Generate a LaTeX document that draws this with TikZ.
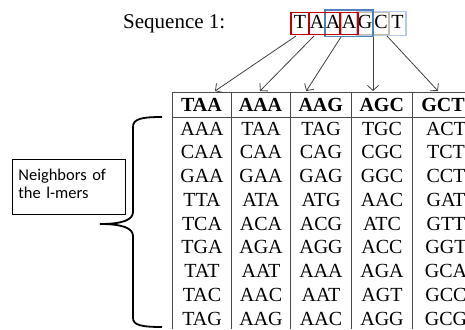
\documentclass[tikz,border=0pt]{standalone}
\usepackage{fontspec}
\setmainfont{Liberation Serif}
\newfontfamily\notefont{Carlito}
\usetikzlibrary{arrows.meta}

\definecolor{kred}{HTML}{C00000}
\definecolor{kblue}{HTML}{4F81BD}
\definecolor{kgray}{HTML}{C4BDB0}
\definecolor{klight}{HTML}{B4C9E6}
\definecolor{rule}{HTML}{4A4A4A}

\tikzset{
  seqfont/.style={font=\fontsize{20}{24}\selectfont},
  kmer/.style={inner sep=0pt, outer sep=0pt, line width=1.8pt},
  hcell/.style={draw=rule, line width=0.9pt, inner sep=0pt, outer sep=0pt,
    minimum height=24.5pt},
  htext/.style={anchor=base, font=\fontsize{20}{24}\selectfont\bfseries},
  btext/.style={anchor=base, font=\fontsize{20}{24}\selectfont},
  tline/.style={draw=rule, line width=0.9pt},
  pointer/.style={draw=black!75, line width=0.8pt,
    -{Straight Barb[length=5pt,width=11pt]}},
}

\begin{document}
\begin{tikzpicture}[x=1pt,y=-1pt]
\useasboundingbox (0,0) rectangle (465,329);
\clip (0,0) rectangle (465,329);

% sequence label and its letters
\node[anchor=base west, inner sep=0pt, font=\fontsize{21}{24}\selectfont] (seqlabel) at (123,28.5) {Sequence 1:};
\foreach \ch/\x [count=\i] in {T/300,A/317,A/333,A/349,G/365,C/381,T/397.5}
  \node[seqfont, anchor=base, inner sep=0pt] (s\i) at (\x,28.5) {\ch};

% overlapping 3-mer frames
\node[kmer, draw=klight, line width=1.5pt, minimum width=49pt, minimum height=24pt] (k5) at (381.5,23.5) {};
\node[kmer, draw=kgray, line width=1.3pt, minimum width=48pt, minimum height=22pt] (k4) at (365,23.5) {};
\node[kmer, draw=kblue, minimum width=48pt, minimum height=26.5pt] (k3) at (349,23.3) {};
\node[kmer, draw=kred, minimum width=49pt, minimum height=22pt] (k2) at (333.5,23.5) {};
\node[kmer, draw=kred, minimum width=49pt, minimum height=22pt] (k1) at (315.5,23.5) {};

% arrow origins on the lower edges of the frames
\coordinate (a1) at (296,36);
\coordinate (a2) at (314,36);
\coordinate (a3) at (341,37);
\coordinate (a4) at (373,37);
\coordinate (a5) at (387,36);

% header row of the table
\node[hcell, minimum width=59pt]   (h1) at (201.5,104.75) {};
\node[hcell, minimum width=59pt]   (h2) at (260.5,104.75) {};
\node[hcell, minimum width=61.5pt] (h3) at (320.75,104.75) {};
\node[hcell, minimum width=60.5pt] (h4) at (381.75,104.75) {};
\node[hcell, minimum width=62pt]   (h5) at (443,104.75) {};
\foreach \t [count=\i] in {TAA,AAA,AAG,AGC,GCT}
  \node[htext] (ht\i) at ([yshift=-6.7pt]h\i.center) {\t};

% column rules of the body
\foreach \x in {172,231,290,351.5,412}
  \draw[tline] (\x,117) -- (\x,329);

% body entries
\foreach \col/\cx in {1/202,2/261,3/321,4/382,5/446}{
  \ifcase\col\or
    \def\entries{AAA,CAA,GAA,TTA,TCA,TGA,TAT,TAC,TAG}\or
    \def\entries{TAA,CAA,GAA,ATA,ACA,AGA,AAT,AAC,AAG}\or
    \def\entries{TAG,CAG,GAG,ATG,ACG,AGG,AAA,AAT,AAC}\or
    \def\entries{TGC,CGC,GGC,AAC,ATC,ACC,AGA,AGT,AGG}\or
    \def\entries{ACT,TCT,CCT,GAT,GTT,GGT,GCA,GCC,GCG}\fi
  \foreach \e [count=\r] in \entries
    \node[btext] (c\col-\r) at (\cx,135+23.75*\r-23.75) {\e};
}

% pointers from the frames to the header cells
\draw[pointer] (a1) -- ([xshift=13.5pt,yshift=1.5pt]h1.north);
\draw[pointer] (a2) -- ([xshift=-0.5pt,yshift=1.5pt]h2.north);
\draw[pointer] (a3) -- ([xshift=-14.5pt,yshift=1.5pt]h3.north);
\draw[pointer] (a4) -- ([xshift=-8.75pt,yshift=1.5pt]h4.north);
\draw[pointer] (a5) -- ([xshift=-5pt,yshift=1.5pt]h5.north);

% brace spanning the neighbour rows
\draw[line width=1.8pt] (162,117) .. controls (141,117) and (133,119) .. (133,127)
  -- (133,212) .. controls (133,220) and (122,224) .. (100,224)
  .. controls (122,224) and (133,228) .. (133,236)
  -- (133,318) .. controls (133,325) and (141,327) .. (162,327);

% caption box
\node[draw, line width=0.8pt, anchor=north west, inner xsep=6pt, inner ysep=9.5pt,
  text width=101pt, align=left, font=\notefont\fontsize{16.5}{18}\selectfont]
  (nb) at (12,159) {Neighbors of\\the l-mers\rule[-6.5pt]{0pt}{1pt}};
\end{tikzpicture}
\end{document}
